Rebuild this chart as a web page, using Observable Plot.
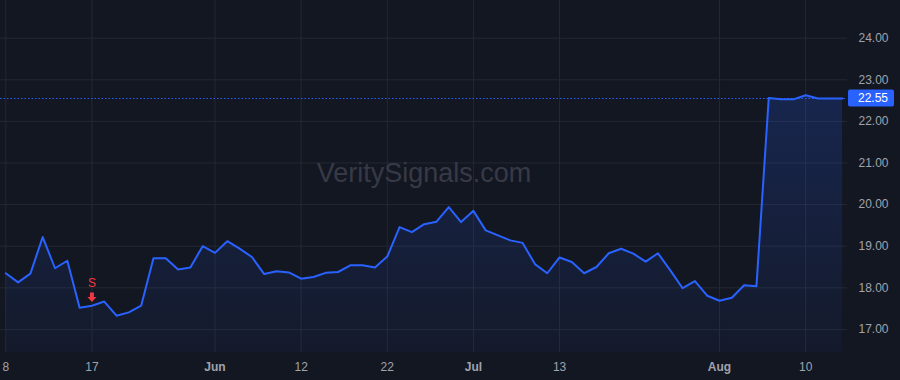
<!DOCTYPE html>
<html>
<head>
<meta charset="utf-8">
<script src="https://cdn.jsdelivr.net/npm/d3@7"></script>
<script src="https://cdn.jsdelivr.net/npm/@observablehq/plot@0.6"></script>
<style>
  html, body { margin: 0; padding: 0; background: #131722; }
  #chart { width: 900px; height: 380px; }
</style>
</head>
<body>
<div id="chart"></div>
<script>
// ---- data (trading days, 2023) ----
const dates = [
  "2023-05-08","2023-05-09","2023-05-10","2023-05-11","2023-05-12","2023-05-15","2023-05-16","2023-05-17",
  "2023-05-18","2023-05-19","2023-05-22","2023-05-23","2023-05-24","2023-05-25","2023-05-26","2023-05-30",
  "2023-05-31","2023-06-01","2023-06-02","2023-06-05","2023-06-06","2023-06-07","2023-06-08","2023-06-09",
  "2023-06-12","2023-06-13","2023-06-14","2023-06-15","2023-06-16","2023-06-20","2023-06-21","2023-06-22",
  "2023-06-23","2023-06-26","2023-06-27","2023-06-28","2023-06-29","2023-06-30","2023-07-03","2023-07-05",
  "2023-07-06","2023-07-07","2023-07-10","2023-07-11","2023-07-12","2023-07-13","2023-07-14","2023-07-17",
  "2023-07-18","2023-07-19","2023-07-20","2023-07-21","2023-07-24","2023-07-25","2023-07-26","2023-07-27",
  "2023-07-28","2023-07-31","2023-08-01","2023-08-02","2023-08-03","2023-08-04","2023-08-07","2023-08-08",
  "2023-08-09","2023-08-10","2023-08-11","2023-08-14","2023-08-15"
];
const closes = [
  18.35, 18.13, 18.34, 19.22, 18.47, 18.65, 17.52, 17.57,
  17.67, 17.33, 17.41, 17.57, 18.71, 18.71, 18.44, 18.49,
  19.00, 18.84, 19.12, 18.94, 18.74, 18.33, 18.40, 18.37,
  18.22, 18.26, 18.36, 18.38, 18.54, 18.54, 18.49, 18.75,
  19.46, 19.34, 19.53, 19.59, 19.94, 19.58, 19.85, 19.38,
  19.26, 19.14, 19.08, 18.57, 18.35, 18.73, 18.62, 18.35,
  18.50, 18.83, 18.94, 18.82, 18.63, 18.83, 18.42, 17.99,
  18.16, 17.81, 17.69, 17.76, 18.06, 18.04, 22.56, 22.53,
  22.53, 22.63, 22.55, 22.55, 22.55
];
const tickDates  = ["2023-05-08","2023-05-17","2023-06-01","2023-06-12","2023-06-22","2023-07-03","2023-07-13","2023-08-01","2023-08-10"];
const tickLabels = ["8","17","Jun","12","22","Jul","13","Aug","10"];
const yTicks = [17, 18, 19, 20, 21, 22, 23, 24];
const signalDates = ["2023-05-17"];
const signalLabels = ["S"];
const watermark = "VeritySignals.com";

// ---- build ----
const data = dates.map((d, i) => ({ i, date: d, close: closes[i] }));
const idxOf = d => dates.indexOf(d);
const tickIdx = tickDates.map(idxOf);
const labelOf = new Map(tickIdx.map((t, k) => [t, tickLabels[k]]));
const isMonth = t => /[A-Za-z]/.test(labelOf.get(t));
const dayTicks = tickIdx.filter(t => !isMonth(t));
const monthTicks = tickIdx.filter(t => isMonth(t));
const signals = signalDates.map((d, k) => ({ i: idxOf(d), close: closes[idxOf(d)], label: signalLabels[k] }));
const last = closes[closes.length - 1];
const yMin = 16.445, yMax = 24.906;

const W = 900, H = 380, MR = 53;
const GRID = "#242833";
const TXT = "#a0a3ac";
const BLUE = "#2962ff";
const RED = "#f23645";
const FONT = "'Liberation Sans', Arial, sans-serif";

const arrowDown = {
  draw(ctx) {
    ctx.moveTo(-2, -4.6);
    ctx.lineTo(2, -4.6);
    ctx.lineTo(2, -0.2);
    ctx.lineTo(4.5, -0.2);
    ctx.lineTo(0, 4.7);
    ctx.lineTo(-4.5, -0.2);
    ctx.lineTo(-2, -0.2);
    ctx.closePath();
  }
};

const plot = Plot.plot({
  width: W,
  height: H,
  marginLeft: 0,
  marginRight: MR,
  marginTop: 0,
  marginBottom: 28,
  style: { background: "#131722", color: TXT, fontFamily: FONT, fontSize: "12px" },
  x: { domain: [-0.43, 68.4] },
  y: { domain: [yMin, yMax] },
  marks: [
    Plot.gridY(yTicks, { stroke: GRID, strokeOpacity: 1 }),
    Plot.gridX(tickIdx, { stroke: GRID, strokeOpacity: 1 }),
    Plot.text([watermark], { frameAnchor: "middle", dy: -3.5, fontSize: 27, fill: "#373a46", fontFamily: FONT }),
    Plot.areaY(data, { x: "i", y1: yMin, y2: "close", fill: BLUE, curve: "linear" }),
    Plot.lineY(data, { x: "i", y: "close", stroke: BLUE, strokeWidth: 2 }),
    Plot.ruleY([last], { stroke: BLUE, strokeWidth: 1, strokeDasharray: "1.5,2" }),
    Plot.dot(signals, { x: "i", y: "close", symbol: arrowDown, fill: RED, stroke: null, dy: -8.5, r: 4 }),
    Plot.text(signals, { x: "i", y: "close", text: "label", fill: RED, dy: -23, fontSize: 12 }),
    Plot.axisY(yTicks, { anchor: "right", tickSize: 0, tickPadding: 11, tickFormat: d => d.toFixed(2), label: null, fill: TXT }),
    Plot.axisX(dayTicks, { anchor: "bottom", tickSize: 0, tickPadding: 10, tickFormat: t => labelOf.get(t), label: null, fill: TXT }),
    Plot.axisX(monthTicks, { anchor: "bottom", tickSize: 0, tickPadding: 10, tickFormat: t => labelOf.get(t), label: null, fill: TXT, fontWeight: "bold" })
  ]
});

document.getElementById("chart").appendChild(plot);

// gradient fill for the area
const svg = d3.select(plot);
const defs = svg.insert("defs", ":first-child");
const grad = defs.append("linearGradient").attr("id", "areaGrad").attr("x1", 0).attr("y1", 0).attr("x2", 0).attr("y2", 1);
grad.append("stop").attr("offset", "0%").attr("stop-color", BLUE).attr("stop-opacity", 0.2);
grad.append("stop").attr("offset", "100%").attr("stop-color", BLUE).attr("stop-opacity", 0.04);
svg.selectAll('g[aria-label="area"] path').attr("fill", "url(#areaGrad)");

// last-value badge on the price axis
const yPos = plot.scale("y").apply(last);
const xPos = W - MR;
const badge = svg.append("g");
badge.append("rect")
  .attr("x", xPos + 1).attr("y", yPos - 8.5).attr("width", 46).attr("height", 17).attr("rx", 2)
  .attr("fill", BLUE);
badge.append("text")
  .attr("x", xPos + 11).attr("y", yPos).attr("dy", "0.35em")
  .attr("text-anchor", "start")
  .attr("fill", "#ffffff").attr("font-size", 12)
  .attr("font-family", FONT)
  .text(last.toFixed(2));
</script>
</body>
</html>
